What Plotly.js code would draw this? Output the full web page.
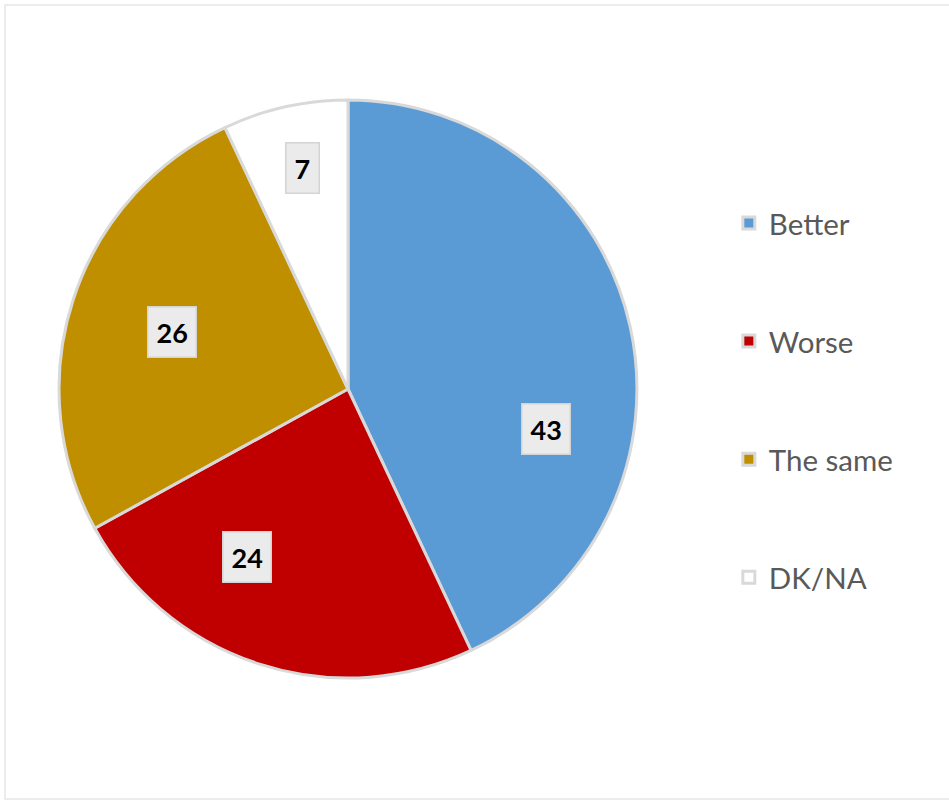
<!DOCTYPE html>
<html>
<head>
<meta charset="utf-8">
<script src="https://cdn.plot.ly/plotly-3.0.1.min.js"></script>
<style>html,body{margin:0;padding:0;background:#fff;}#chart{width:949px;height:802px;}</style>
</head>
<body>
<div id="chart"></div>
<script>
// Data
const labels = ["Better", "Worse", "The same", "DK/NA"];
const values = [43, 24, 26, 7];
const colors = ["#5B9BD5", "#C00000", "#BF8F00", "#FFFFFF"];

// Style-only label placement tweaks (degrees / fraction of radius)
const labelAngleShift = [24, 13, 0, 1];
const labelRadiusFrac = [0.70, 0.68, 0.64, 0.78];

const W = 949, H = 802;
const dom = {x: [0.0622, 0.6712], y: [0.1546, 0.8753]};
const cxPx = (dom.x[0] + dom.x[1]) / 2 * W;
const cyPx = (1 - (dom.y[0] + dom.y[1]) / 2) * H;
const rPx = Math.min((dom.x[1] - dom.x[0]) * W, (dom.y[1] - dom.y[0]) * H) / 2;

const total = values.reduce((a, b) => a + b, 0);
let cum = 0;
const annotations = values.map((v, i) => {
  const mid = (cum + v / 2) / total * 360 + labelAngleShift[i];
  cum += v;
  const t = mid * Math.PI / 180;
  const d = labelRadiusFrac[i] * rPx;
  const px = cxPx + d * Math.sin(t);
  const py = cyPx - d * Math.cos(t);
  return {
    xref: 'paper', yref: 'paper',
    x: px / W, y: 1 - py / H,
    xanchor: 'center', yanchor: 'middle',
    text: '<b>' + v + '</b>',
    showarrow: false,
    font: {family: 'Lato, "DejaVu Sans", sans-serif', size: 27, color: '#000000'},
    bgcolor: '#ebebeb',
    bordercolor: '#d4d4d4',
    borderwidth: 1.5,
    borderpad: 8
  };
});

const trace = {
  type: 'pie',
  labels: labels.map(l => '<br>' + l + '<br>'),
  values: values,
  sort: false,
  direction: 'clockwise',
  rotation: 0,
  marker: {colors: colors, line: {color: '#D9D9D9', width: 3}},
  textinfo: 'none',
  hoverinfo: 'none',
  domain: dom
};

const layout = {
  width: W, height: H,
  margin: {l: 0, r: 0, t: 0, b: 0},
  paper_bgcolor: '#ffffff',
  showlegend: true,
  legend: {
    x: 0.768, y: 0.8017, xanchor: 'left', yanchor: 'top',
    font: {family: 'Lato, "DejaVu Sans", sans-serif', size: 29.5, color: '#595959'},
    bgcolor: 'rgba(0,0,0,0)', borderwidth: 0
  },
  annotations: annotations,
  shapes: [{
    type: 'rect', xref: 'paper', yref: 'paper',
    x0: 5 / W, x1: 1.01, y0: 3 / H, y1: 1 - 5 / H,
    line: {color: '#E6E6E6', width: 1.5}
  }]
};

Plotly.newPlot('chart', [trace], layout, {displayModeBar: false, staticPlot: true});
</script>
</body>
</html>
